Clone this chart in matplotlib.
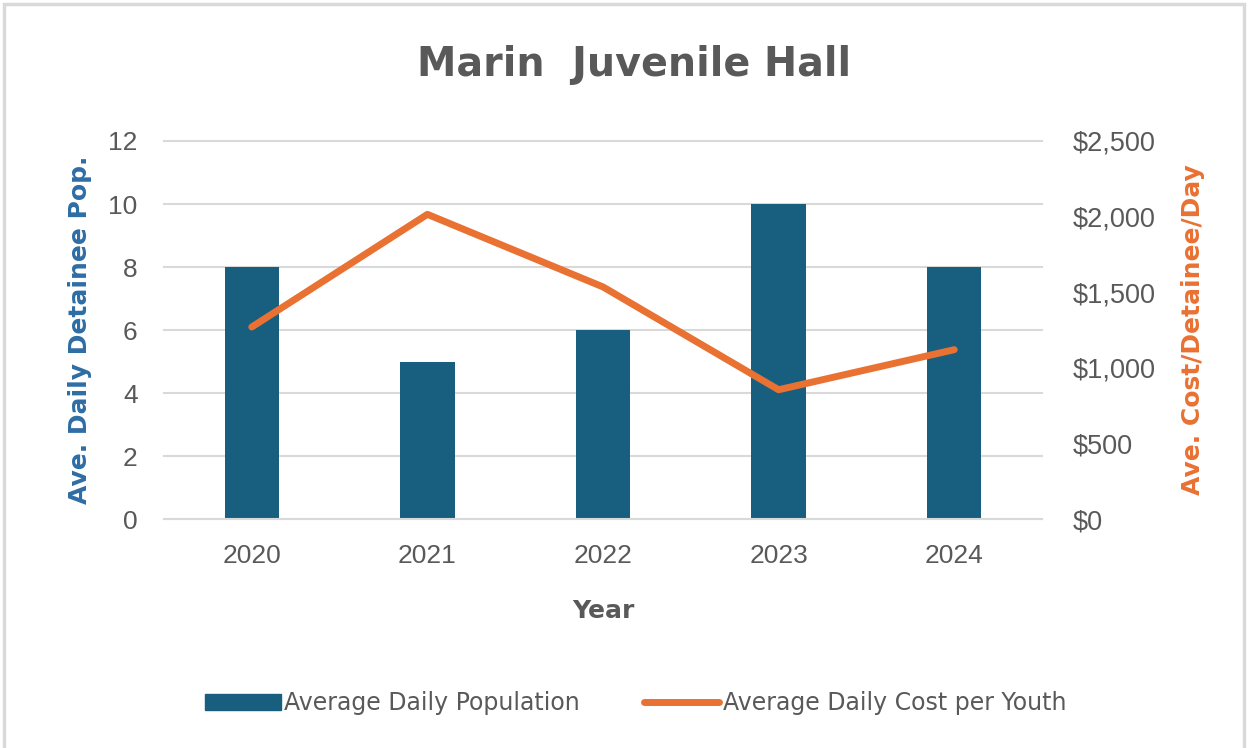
import numpy as np
import matplotlib.pyplot as plt
from matplotlib.patches import Rectangle
from matplotlib.lines import Line2D
from matplotlib.ticker import FuncFormatter

years = ["2020", "2021", "2022", "2023", "2024"]
population = [8, 5, 6, 10, 8]
cost_per_youth = [1270, 2015, 1535, 855, 1120]

bar_color = "#175E7F"
line_color = "#E97132"
text_gray = "#595959"
tick_font = "Liberation Sans"

fig = plt.figure(figsize=(12.49, 7.48), dpi=100)
fig.patches.append(Rectangle((0.003, -0.01), 0.993, 1.004, transform=fig.transFigure,
                             fill=False, edgecolor="#D9D9D9", linewidth=2.5))

ax = fig.add_axes([0.1313, 0.3061, 0.703, 0.5054])
x = np.arange(len(years))
ax.bar(x, population, width=0.31, color=bar_color, zorder=2)
ax.set_xlim(-0.5, len(years) - 0.5)
ax.set_ylim(0, 12)
ax.set_yticks(range(0, 13, 2))
ax.set_xticks(x)
ax.set_xticklabels(years)
ax.grid(axis="y", color="#D9D9D9", linewidth=1.5, zorder=0)
for gl in ax.get_ygridlines():
    gl.set_clip_on(False)
for s in ["top", "right", "left"]:
    ax.spines[s].set_visible(False)
ax.spines["bottom"].set_color("#D9D9D9")
ax.spines["bottom"].set_linewidth(1.5)
ax.tick_params(axis="both", length=0, labelsize=19, labelcolor=text_gray)
ax.tick_params(axis="x", pad=18)
ax.tick_params(axis="y", pad=19)
for lbl in ax.get_xticklabels() + ax.get_yticklabels():
    lbl.set_fontfamily(tick_font)
ax.set_ylabel("Ave. Daily Detainee Pop.", fontsize=18, fontweight="bold",
              color="#2E6DA4", labelpad=12)
ax.set_xlabel("Year", fontsize=18, fontweight="bold", color=text_gray, labelpad=22)

ax2 = ax.twinx()
ax2.plot(x, cost_per_youth, color=line_color, linewidth=5, solid_capstyle="round", zorder=3)
ax2.set_ylim(0, 2500)
ax2.set_yticks(range(0, 2501, 500))
ax2.yaxis.set_major_formatter(FuncFormatter(lambda v, p: f"${v:,.0f}"))
for s in ax2.spines.values():
    s.set_visible(False)
ax2.tick_params(axis="y", length=0, labelsize=19.5, labelcolor=text_gray, pad=22)
for lbl in ax2.get_yticklabels():
    lbl.set_fontfamily(tick_font)
ax2.set_ylabel("Ave. Cost/Detainee/Day", fontsize=18, fontweight="bold",
               color=line_color, labelpad=18)

fig.text(0.508, 0.913, "Marin  Juvenile Hall", ha="center", va="center",
         fontsize=28.5, fontweight="bold", color=text_gray)

handles = [Rectangle((0, 0), 1, 1, color=bar_color),
           Line2D([0], [0], color=line_color, linewidth=5, solid_capstyle="round")]
fig.legend(handles, ["Average Daily Population", "Average Daily Cost per Youth"],
           loc="center", bbox_to_anchor=(0.509, 0.06), ncol=2, frameon=False,
           fontsize=17, labelcolor=text_gray, handlelength=3.2, handletextpad=0.15,
           columnspacing=2.7)

fig.savefig("out.png", dpi=100)
